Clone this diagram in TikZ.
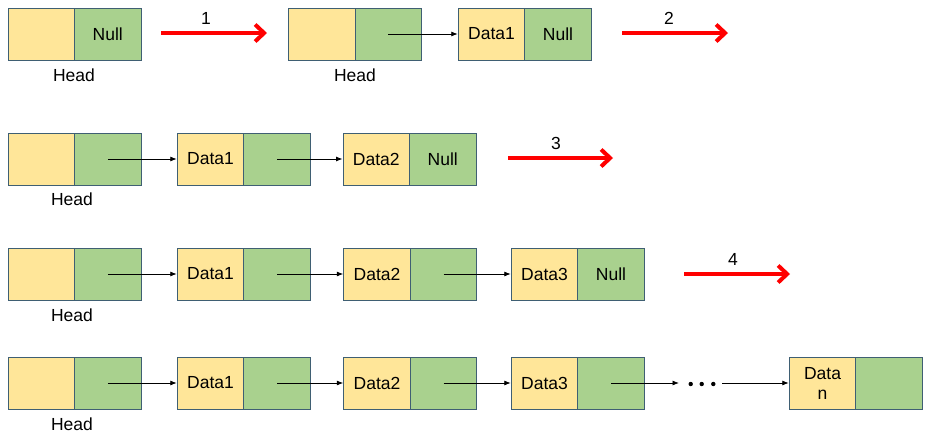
\documentclass[tikz,border=0pt]{standalone}
\usepackage{fontspec}
\setmainfont{Liberation Sans}
\usetikzlibrary{arrows.meta}
\definecolor{cellY}{HTML}{FFE699}
\definecolor{cellG}{HTML}{A9D18E}
\definecolor{cellB}{HTML}{3F5F73}
\begin{document}
\begin{tikzpicture}[x=1pt,y=-1pt,
  cell/.style={draw=cellB, line width=1pt, minimum height=52pt, inner sep=0pt, anchor=center, font=\fontsize{17.5}{20}\selectfont, align=center},
  ycell/.style={cell, fill=cellY, minimum width=66.5pt},
  gcell/.style={cell, fill=cellG, minimum width=66.5pt},
  lbl/.style={font=\fontsize{17.5}{20}\selectfont, inner sep=0pt},
  link/.style={line width=0.8pt, -{Latex[length=6.5pt,width=5pt]}},
  step arrow/.style={draw=red, line width=4pt, -{Straight Barb[length=9pt,width=17pt]}},
]
\useasboundingbox (0,0) rectangle (931,440);

% ---------- Row 1 ----------
\node[ycell] (r1hy) at (41.25,34) {};
\node[gcell] (r1hg) at (107.75,34) {Null};
\node[lbl] (r1hl) at (74,75) {Head};
\coordinate (r1a1s) at (161,33);
\coordinate (r1a1e) at (267,33);
\draw[step arrow] (r1a1s) -- (r1a1e);
\node[lbl] (r1n1) at (206,18) {1};

\node[ycell] (r1by) at (321.75,34) {};
\node[gcell] (r1bg) at (388.25,34) {};
\node[lbl] (r1bl) at (355,75) {Head};
\node[ycell] (r1d1y) at (491.5,34) {Data1};
\node[gcell] (r1d1g) at (558,34) {Null};
\draw[link] (r1bg.center) -- (r1d1y.west);
\coordinate (r1a2s) at (622,33);
\coordinate (r1a2e) at (728,33);
\draw[step arrow] (r1a2s) -- (r1a2e);
\node[lbl] (r1n2) at (669,18) {2};

% ---------- Row 2 ----------
\node[ycell] (r2hy) at (41.25,159) {};
\node[gcell] (r2hg) at (107.75,159) {};
\node[lbl] (r2hl) at (72,199) {Head};
\node[ycell] (r2d1y) at (210.5,159) {Data1};
\node[gcell] (r2d1g) at (277,159) {};
\node[ycell] (r2d2y) at (376.25,159) {Data2};
\node[gcell] (r2d2g) at (442.75,159) {Null};
\draw[link] (r2hg.center) -- (r2d1y.west);
\draw[link] (r2d1g.center) -- (r2d2y.west);
\coordinate (r2a3s) at (508,158);
\coordinate (r2a3e) at (613,158);
\draw[step arrow] (r2a3s) -- (r2a3e);
\node[lbl] (r2n3) at (556,143) {3};

% ---------- Row 3 ----------
\node[ycell] (r3hy) at (41.25,274) {};
\node[gcell] (r3hg) at (107.75,274) {};
\node[lbl] (r3hl) at (72,315) {Head};
\node[ycell] (r3d1y) at (210.5,274) {Data1};
\node[gcell] (r3d1g) at (277,274) {};
\node[ycell] (r3d2y) at (377,274) {Data2};
\node[gcell] (r3d2g) at (443.5,274) {};
\node[ycell] (r3d3y) at (544.5,274) {Data3};
\node[gcell] (r3d3g) at (611,274) {Null};
\draw[link] (r3hg.center) -- (r3d1y.west);
\draw[link] (r3d1g.center) -- (r3d2y.west);
\draw[link] (r3d2g.center) -- (r3d3y.west);
\coordinate (r3a4s) at (684,274);
\coordinate (r3a4e) at (790,274);
\draw[step arrow] (r3a4s) -- (r3a4e);
\node[lbl] (r3n4) at (733,259) {4};

% ---------- Row 4 ----------
\node[ycell] (r4hy) at (41.25,383) {};
\node[gcell] (r4hg) at (107.75,383) {};
\node[lbl] (r4hl) at (72,424) {Head};
\node[ycell] (r4d1y) at (210.5,383) {Data1};
\node[gcell] (r4d1g) at (277,383) {};
\node[ycell] (r4d2y) at (377,383) {Data2};
\node[gcell] (r4d2g) at (443.5,383) {};
\node[ycell] (r4d3y) at (544.5,383) {Data3};
\node[gcell] (r4d3g) at (611,383) {};
\node[ycell] (r4dny) at (822.5,383) {Data\\n};
\node[gcell] (r4dng) at (889,383) {};
\draw[link] (r4hg.center) -- (r4d1y.west);
\draw[link] (r4d1g.center) -- (r4d2y.west);
\draw[link] (r4d2g.center) -- (r4d3y.west);
\coordinate (r4e1) at (679,383);
\coordinate (r4s2) at (722,383);
\draw[link] (r4d3g.center) -- (r4e1);
\fill (690.7,384) circle (2.2pt) (701.7,384) circle (2.2pt) (713.3,384) circle (2.2pt);
\draw[link] (r4s2) -- (r4dny.west);
\end{tikzpicture}
\end{document}
